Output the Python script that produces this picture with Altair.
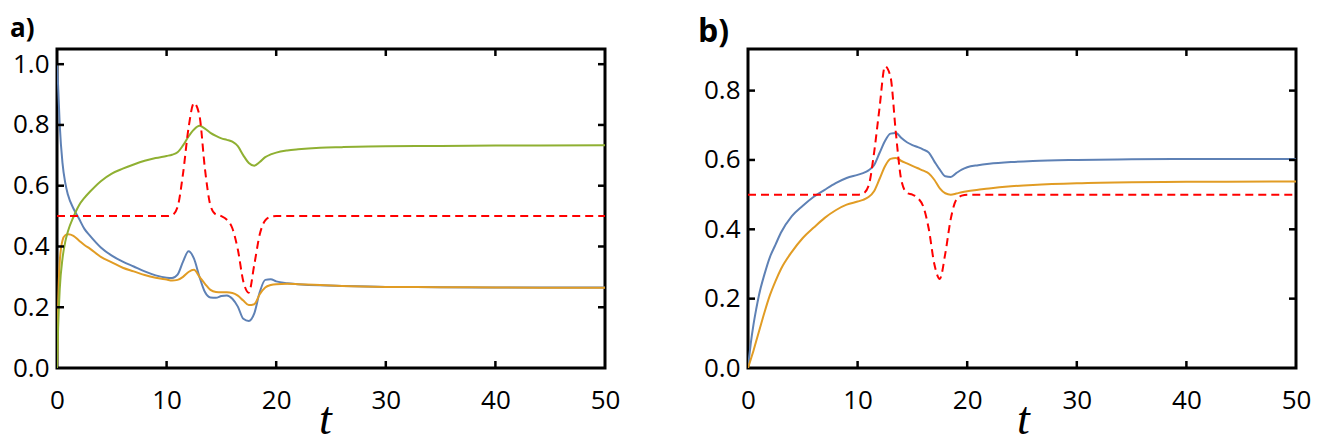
import altair as alt
import pandas as pd

T = [0, 0.1, 0.25, 0.5, 0.75, 1, 1.5, 2, 2.5, 3, 4, 5, 6, 7, 8, 9, 10,
     10.5, 11, 11.5, 12, 12.5, 13, 13.5, 14, 14.5, 15, 15.5, 16, 16.5, 17,
     17.5, 18, 18.5, 19, 19.5, 20, 21, 22, 24, 26, 30, 35, 40, 50]

A_BLUE = [1.0, 0.93, 0.80, 0.675, 0.61, 0.57, 0.525, 0.492, 0.458, 0.436,
          0.397, 0.37, 0.35, 0.334, 0.318, 0.305, 0.297,
          0.296, 0.307, 0.35, 0.384, 0.36, 0.30, 0.25, 0.232, 0.231, 0.237,
          0.239, 0.228, 0.202, 0.162, 0.155, 0.18, 0.25, 0.29, 0.292, 0.285,
          0.279, 0.276, 0.272, 0.27, 0.267, 0.266, 0.265, 0.265]
A_ORANGE = [0.0, 0.2, 0.35, 0.42, 0.437, 0.44, 0.435, 0.42, 0.405, 0.393,
            0.366, 0.348, 0.33, 0.318, 0.306, 0.297, 0.291,
            0.288, 0.29, 0.30, 0.316, 0.323, 0.30, 0.277, 0.257, 0.25, 0.249,
            0.249, 0.247, 0.238, 0.222, 0.207, 0.21, 0.243, 0.265, 0.273, 0.276,
            0.277, 0.276, 0.273, 0.27, 0.267, 0.266, 0.265, 0.264]
A_GREEN = [0.0, 0.13, 0.26, 0.36, 0.415, 0.45, 0.497, 0.535, 0.56, 0.58,
           0.615, 0.64, 0.656, 0.67, 0.682, 0.691, 0.698,
           0.702, 0.71, 0.733, 0.762, 0.785, 0.797, 0.788, 0.774, 0.764, 0.756,
           0.751, 0.745, 0.73, 0.70, 0.675, 0.666, 0.678, 0.694, 0.703, 0.709,
           0.716, 0.72, 0.725, 0.727, 0.73, 0.731, 0.732, 0.733]
A_RED = [0.5, 0.5, 0.5, 0.5, 0.5, 0.5, 0.5, 0.5, 0.5, 0.5,
         0.5, 0.5, 0.5, 0.5, 0.5, 0.5, 0.5,
         0.503, 0.53, 0.64, 0.79, 0.872, 0.83, 0.655, 0.535, 0.505, 0.50,
         0.488, 0.46, 0.39, 0.285, 0.248, 0.34, 0.44, 0.486, 0.498, 0.5,
         0.5, 0.5, 0.5, 0.5, 0.5, 0.5, 0.5, 0.5]

B_BLUE = [0.0, 0.03, 0.07, 0.125, 0.17, 0.21, 0.27, 0.32, 0.355, 0.39,
          0.438, 0.468, 0.494, 0.514, 0.533, 0.548, 0.557,
          0.562, 0.57, 0.585, 0.62, 0.655, 0.676, 0.678, 0.663, 0.651, 0.643,
          0.637, 0.63, 0.621, 0.596, 0.572, 0.553, 0.551, 0.562, 0.572, 0.579,
          0.585, 0.589, 0.594, 0.597, 0.60, 0.602, 0.603, 0.603]
B_ORANGE = [0.0, 0.01, 0.025, 0.05, 0.078, 0.105, 0.16, 0.21, 0.25, 0.285,
            0.335, 0.375, 0.405, 0.433, 0.455, 0.471, 0.48,
            0.485, 0.493, 0.51, 0.545, 0.582, 0.603, 0.606, 0.597, 0.59, 0.583,
            0.576, 0.569, 0.561, 0.543, 0.518, 0.504, 0.50, 0.503, 0.507, 0.51,
            0.514, 0.518, 0.524, 0.528, 0.533, 0.536, 0.537, 0.538]
B_RED = [0.5, 0.5, 0.5, 0.5, 0.5, 0.5, 0.5, 0.5, 0.5, 0.5,
         0.5, 0.5, 0.5, 0.5, 0.5, 0.5, 0.5,
         0.503, 0.525, 0.62, 0.75, 0.87, 0.84, 0.675, 0.54, 0.505, 0.50,
         0.49, 0.465, 0.40, 0.30, 0.257, 0.33, 0.43, 0.485, 0.497, 0.5,
         0.5, 0.5, 0.5, 0.5, 0.5, 0.5, 0.5, 0.5]

X_TICKS = [0, 10, 20, 30, 40, 50]
X_INNER = [10, 20, 30, 40]
A_YTICKS = [0.0, 0.2, 0.4, 0.6, 0.8, 1.0]
A_YINNER = [0.2, 0.4, 0.6, 0.8, 1.0]
B_YTICKS = [0.0, 0.2, 0.4, 0.6, 0.8]
B_YINNER = [0.2, 0.4, 0.6, 0.8]

BLUE = "#5E81B5"
ORANGE = "#E19C24"
GREEN = "#8FB032"
RED = "#FF0000"

W = 548
H = 319
TL = 7
LABEL_FONT = "Open Sans"
LABEL_SIZE = 26


def panel(label, series, red, ymax, yticks, yinner, title_dx, title_offset,
          title_size, t_x):
    xs = alt.Scale(domain=[0, 50], nice=False, zero=False)
    ys = alt.Scale(domain=[0, ymax], nice=False, zero=False)
    x_axis = alt.Axis(values=X_TICKS, ticks=False, domain=False, grid=False,
                      labelFont=LABEL_FONT, labelFontSize=LABEL_SIZE, labelColor="black",
                      labelPadding=19, labelFlush=False, labelAngle=0,
                      title="t", titleFont="Liberation Serif", titleFontStyle="italic",
                      titleFontWeight="normal", titleFontSize=46, titleColor="black",
                      titleBaseline="alphabetic", titleY=65, titleX=t_x)
    y_axis = alt.Axis(values=yticks, format=".1f", ticks=False, domain=False,
                      grid=False, labelFont=LABEL_FONT, labelFontSize=LABEL_SIZE,
                      labelColor="black", labelPadding=8, labelFlush=False,
                      title=None)
    X = lambda f: alt.X(f, scale=xs, axis=x_axis)
    Y = lambda f: alt.Y(f, scale=ys, axis=y_axis)
    layers = []
    for vals, color in series:
        df = pd.DataFrame({"t": T, "v": vals})
        layers.append(
            alt.Chart(df).mark_line(color=color, strokeWidth=2, interpolate="monotone", clip=True)
            .encode(x=X("t:Q"), y=Y("v:Q"))
        )
    dfr = pd.DataFrame({"t": T, "v": red})
    layers.append(
        alt.Chart(dfr).mark_line(color=RED, strokeWidth=2, strokeDash=[8, 5],
                                 interpolate="monotone", clip=True)
        .encode(x=X("t:Q"), y=Y("v:Q"))
    )
    dfx = pd.DataFrame({"t": X_INNER})
    dfy = pd.DataFrame({"v": yinner})
    rule = dict(color="black", strokeWidth=2.5)
    layers.append(alt.Chart(dfx).mark_rule(**rule).encode(
        x=X("t:Q"), y=alt.value(0), y2=alt.value(TL)))
    layers.append(alt.Chart(dfx).mark_rule(**rule).encode(
        x=X("t:Q"), y=alt.value(H), y2=alt.value(H - TL)))
    layers.append(alt.Chart(dfy).mark_rule(**rule).encode(
        y=Y("v:Q"), x=alt.value(0), x2=alt.value(TL)))
    layers.append(alt.Chart(dfy).mark_rule(**rule).encode(
        y=Y("v:Q"), x=alt.value(W), x2=alt.value(W - TL)))
    return alt.layer(*layers).properties(
        width=W, height=H,
        title=alt.TitleParams(label, anchor="start", font=LABEL_FONT, fontSize=title_size,
                              fontWeight="bold", color="black", dx=title_dx,
                              offset=title_offset, baseline="alphabetic", frame="group"),
    )


pa = panel("a)", [(A_BLUE, BLUE), (A_ORANGE, ORANGE), (A_GREEN, GREEN)], A_RED,
           1.05, A_YTICKS, A_YINNER, -47, -15, 26, 268)
pb = panel("b)", [(B_BLUE, BLUE), (B_ORANGE, ORANGE)], B_RED,
           0.92, B_YTICKS, B_YINNER, -50, -26, 32, 275)

chart = alt.hconcat(pa, pb, spacing=74).properties(
    padding={"left": 0, "top": 6, "right": 0, "bottom": 0}
).configure(background="white").configure_view(stroke="black", strokeWidth=3)

chart.save("out.html", embed_options={"renderer": "svg", "actions": False})
